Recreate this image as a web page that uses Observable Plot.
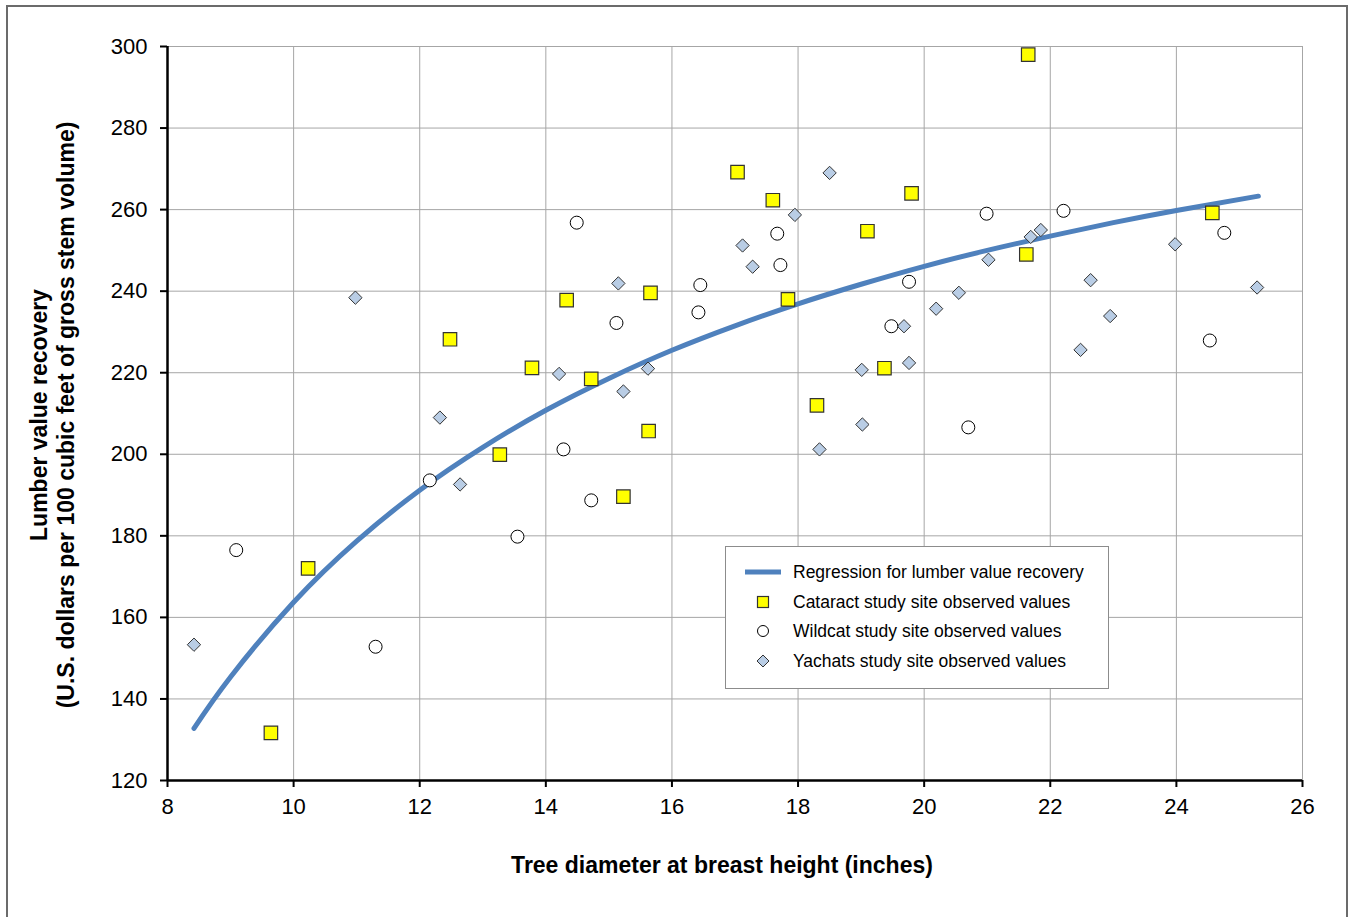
<!DOCTYPE html>
<html>
<head>
<meta charset="utf-8">
<script src="https://cdn.jsdelivr.net/npm/d3@7"></script>
<script src="https://cdn.jsdelivr.net/npm/@observablehq/plot@0.6"></script>
<style>
  html, body { margin: 0; padding: 0; background: #fff; }
  #wrap { position: relative; width: 1352px; height: 917px; overflow: hidden; font-family: "Liberation Sans", Arial, sans-serif; }
  #border { position: absolute; left: 6px; top: 5px; width: 1342px; height: 940px; border: 2px solid #6b6b6b; box-sizing: border-box; }
  #chart { position: absolute; left: 0; top: 0; }
  .title { position: absolute; font-weight: bold; font-size: 23px; color: #000; white-space: nowrap; }
  #xtitle { left: 722px; top: 865px; transform: translate(-50%, -50%); }
  #ytitle { left: 53px; top: 415px; transform: translate(-50%, -50%) rotate(-90deg); text-align: center; line-height: 27px; }
  #legend { position: absolute; left: 725px; top: 546px; width: 384px; height: 143px; border: 1px solid #8c8c8c; background: #fff; box-sizing: border-box; }
</style>
</head>
<body>
<div id="wrap">
  <div id="border"></div>
  <div id="chart"></div>
  <div class="title" id="xtitle"></div>
  <div class="title" id="ytitle"></div>
  <div id="legend"></div>
</div>
<script>
// ---- Data ----
const xTicks = [8, 10, 12, 14, 16, 18, 20, 22, 24, 26];
const yTicks = [120, 140, 160, 180, 200, 220, 240, 260, 280, 300];

const cataractDbh = [21.65, 17.04, 17.60, 19.80, 19.10, 24.57, 21.62, 14.33, 15.66, 17.84, 12.48, 13.78, 14.72, 19.37, 18.30, 13.27, 15.63, 15.23, 10.23, 9.64];
const cataractVal = [298.0, 269.2, 262.3, 264.0, 254.7, 259.2, 249.0, 237.8, 239.6, 238.0, 228.2, 221.2, 218.5, 221.1, 212.0, 199.9, 205.7, 189.6, 172.0, 131.7];

const wildcatDbh = [14.49, 17.67, 17.72, 16.45, 15.12, 16.42, 19.76, 19.48, 20.99, 22.21, 24.76, 24.53, 14.28, 14.72, 20.70, 9.09, 12.16, 13.55, 11.30];
const wildcatVal = [256.8, 254.1, 246.4, 241.5, 232.2, 234.8, 242.3, 231.4, 259.0, 259.7, 254.3, 227.9, 201.2, 188.7, 206.6, 176.5, 193.6, 179.8, 152.8];

const yachatsDbh = [10.98, 14.21, 18.50, 17.95, 17.12, 17.28, 15.15, 15.62, 15.23, 19.68, 19.01, 19.76, 20.19, 20.55, 21.02, 21.69, 21.85, 22.64, 22.95, 22.48, 23.98, 25.28, 12.32, 12.64, 8.42, 19.02, 18.34];
const yachatsVal = [238.4, 219.7, 269.0, 258.7, 251.2, 246.0, 241.9, 221.0, 215.4, 231.4, 220.7, 222.4, 235.7, 239.6, 247.7, 253.3, 255.0, 242.7, 233.9, 225.6, 251.5, 240.9, 209.0, 192.6, 153.3, 207.3, 201.2];

const regDbh = [8.42, 9, 10, 11, 12, 13, 14, 15, 16, 17, 18, 19, 20, 21, 22, 23, 24, 25.3];
const regVal = [132.8, 145.4, 163.7, 178.7, 191.2, 201.7, 210.8, 218.6, 225.5, 231.5, 236.9, 241.7, 246.1, 250.0, 253.5, 256.8, 259.8, 263.3];

const seriesNames = [
  "Regression for lumber value recovery",
  "Cataract study site observed values",
  "Wildcat study site observed values",
  "Yachats study site observed values"
];
const xLabel = "Tree diameter at breast height (inches)";
const yLabel = ["Lumber value recovery", "(U.S. dollars per 100 cubic feet of gross stem volume)"];

// ---- Build tables ----
const zip = (xs, ys) => xs.map((x, i) => ({x, y: ys[i]}));
const cataract = zip(cataractDbh, cataractVal);
const wildcat = zip(wildcatDbh, wildcatVal);
const yachats = zip(yachatsDbh, yachatsVal);
const regression = zip(regDbh, regVal);

const regColor = "#4f81bd";
const fontFam = "'Liberation Sans', Arial, sans-serif";

const chart = Plot.plot({
  width: 1352,
  height: 917,
  marginLeft: 167,
  marginRight: 50,
  marginTop: 46,
  marginBottom: 137,
  style: {fontFamily: fontFam, background: "transparent", color: "#000"},
  x: {domain: [8, 26]},
  y: {domain: [120, 300]},
  marks: [
    Plot.gridX(xTicks, {stroke: "#a6a6a6", strokeOpacity: 1, strokeWidth: 1}),
    Plot.gridY(yTicks, {stroke: "#a6a6a6", strokeOpacity: 1, strokeWidth: 1}),
    Plot.axisX(xTicks, {tickSize: 7, tickPadding: 11, strokeWidth: 2, color: "#000", fontSize: 22, label: null, tickFormat: d => String(d)}),
    Plot.axisY(yTicks, {tickSize: 7, tickPadding: 13, strokeWidth: 2, color: "#000", fontSize: 22, label: null, tickFormat: d => String(d)}),
    Plot.ruleY([120], {stroke: "#000", strokeWidth: 2.5}),
    Plot.ruleX([8], {stroke: "#000", strokeWidth: 2.5}),
    Plot.line(regression, {x: "x", y: "y", stroke: regColor, strokeWidth: 5, curve: "natural"}),
    Plot.dot(yachats, {x: "x", y: "y", symbol: "diamond2", r: 6, fill: "#b9cde5", stroke: "#333", strokeWidth: 1}),
    Plot.dot(wildcat, {x: "x", y: "y", symbol: "circle", r: 6.5, fill: "#fff", stroke: "#000", strokeWidth: 1}),
    Plot.dot(cataract, {x: "x", y: "y", symbol: "square", r: 7.6, fill: "#ffff00", stroke: "#333", strokeWidth: 1.2})
  ]
});
document.getElementById("chart").appendChild(chart);

document.getElementById("xtitle").textContent = xLabel;
document.getElementById("ytitle").innerHTML = yLabel.map(s => `<div>${s}</div>`).join("");

// ---- Legend ----
const lg = d3.select("#legend").append("svg").attr("width", 382).attr("height", 141);
const rowY = [25, 55, 84, 114];
const sx = 37;
lg.append("line").attr("x1", 19).attr("x2", 55).attr("y1", rowY[0]).attr("y2", rowY[0]).attr("stroke", regColor).attr("stroke-width", 5);
lg.append("rect").attr("x", sx - 5.5).attr("y", rowY[1] - 5.5).attr("width", 11).attr("height", 11).attr("fill", "#ffff00").attr("stroke", "#333").attr("stroke-width", 1.2);
lg.append("circle").attr("cx", sx).attr("cy", rowY[2]).attr("r", 5.5).attr("fill", "#fff").attr("stroke", "#000");
lg.append("path").attr("d", `M${sx},${rowY[3]-6}L${sx+6},${rowY[3]}L${sx},${rowY[3]+6}L${sx-6},${rowY[3]}Z`).attr("fill", "#b9cde5").attr("stroke", "#333");
lg.selectAll("text.l").data(seriesNames).join("text").attr("class", "l")
  .attr("x", 67).attr("y", (d, i) => rowY[i]).attr("dy", "0.35em")
  .attr("font-family", fontFam).attr("font-size", 17.5).attr("fill", "#000").text(d => d);
</script>
</body>
</html>
